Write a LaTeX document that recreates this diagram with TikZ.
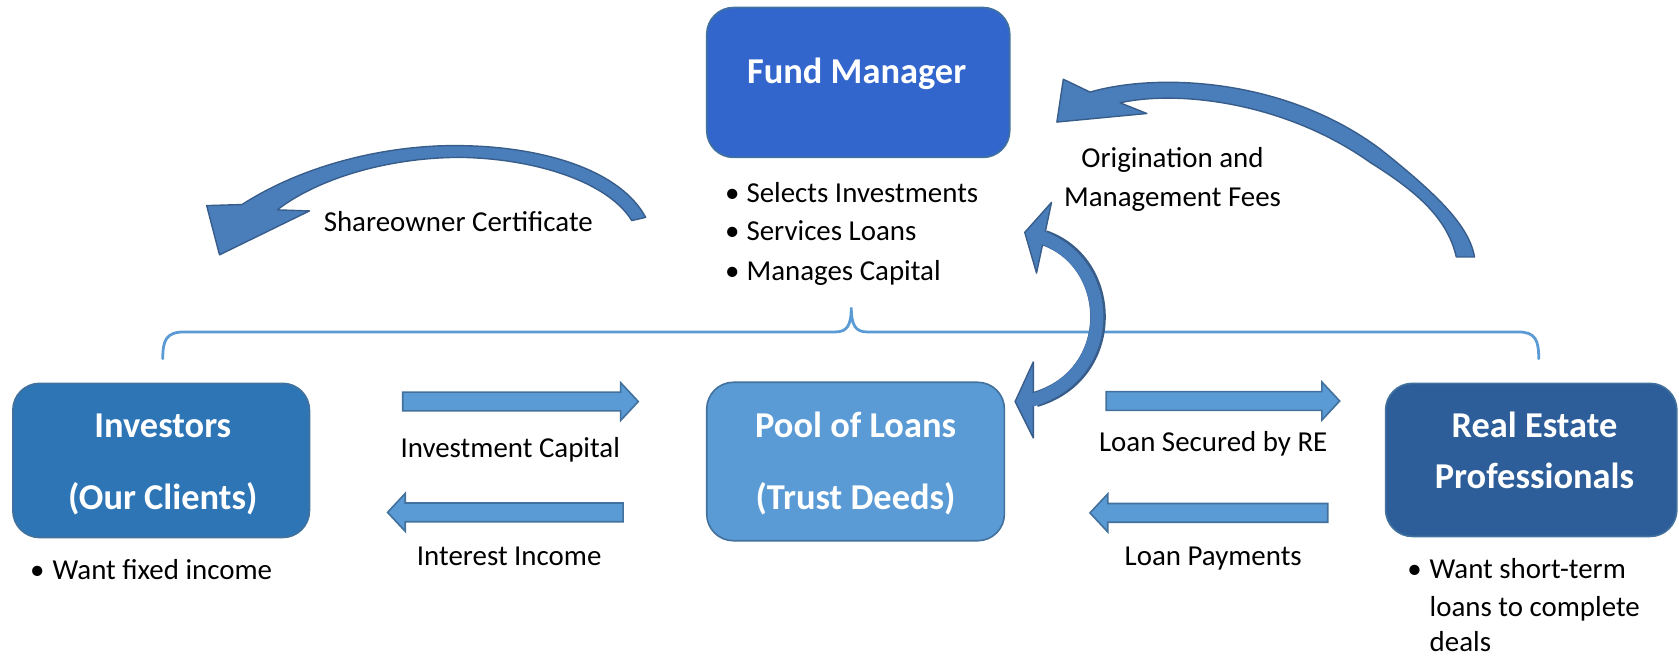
\documentclass[tikz,border=0pt]{standalone}
\usepackage{fontspec}
\setmainfont{Carlito}
\usetikzlibrary{shapes.arrows}
\definecolor{fmfill}{HTML}{3366CC}
\definecolor{invfill}{HTML}{2E75B6}
\definecolor{poolfill}{HTML}{5B9BD5}
\definecolor{refill}{HTML}{2E5E99}
\definecolor{boxborder}{HTML}{41719C}
\definecolor{cafill}{HTML}{4A7EBB}
\definecolor{caborder}{HTML}{385D8A}
\definecolor{safill}{HTML}{5B9BD5}
\definecolor{saborder}{HTML}{41719C}
\definecolor{bracec}{HTML}{5B9BD5}
\begin{document}
\begin{tikzpicture}[x=1pt,y=-1pt,
  box/.style={draw=boxborder,line width=1.5pt,rounded corners=25pt,inner sep=0pt},
  boxtext/.style={anchor=base,text=white,font=\fontsize{34}{40}\selectfont\bfseries,inner sep=0pt},
  lbl/.style={anchor=base,font=\fontsize{27}{32}\selectfont,inner sep=0pt},
  bul/.style={anchor=base west,font=\fontsize{27}{32}\selectfont,inner sep=0pt},
  sarrow/.style={single arrow,draw=saborder,fill=safill,line width=1.5pt,inner sep=0pt,
    minimum width=34pt,single arrow head extend=9pt,single arrow tip angle=94},
  carrow/.style={fill=cafill,draw=caborder,line width=1.3pt,line join=round},
]
\useasboundingbox (0,0) rectangle (1568,615.4);

% brace
\draw[bracec,line width=2.6pt,line cap=round]
  (152,335) .. controls (152,318) and (155,310) .. (172,310) -- (780,310)
  .. controls (791,310) and (795,304) .. (795,287)
  .. controls (795,304) and (799,310) .. (810,310) -- (1418,310)
  .. controls (1434,310) and (1437,318) .. (1437,335);

% boxes
\node[box,fill=fmfill,minimum width=283pt,minimum height=140pt] (fm) at (801.5,77) {};
\node[box,fill=invfill,minimum width=277pt,minimum height=144pt] (inv) at (150.5,430) {};
\node[box,fill=poolfill,minimum width=278pt,minimum height=148pt] (pool) at (799,431) {};
\node[box,fill=refill,minimum width=272pt,minimum height=143pt] (re) at (1430,429.5) {};

\node[boxtext] (fmt) at (800,78) {Fund Manager};
\node[boxtext] (inv1) at (152,409) {Investors};
\node[boxtext] (inv2) at (152,476) {(Our Clients)};
\node[boxtext] (pool1) at (799,409) {Pool of Loans};
\node[boxtext] (pool2) at (799,476) {(Trust Deeds)};
\node[boxtext] (re1) at (1433,409) {Real Estate};
\node[boxtext] (re2) at (1433,456) {Professionals};

% bullets
\node[bul] (fb1) at (677,189) {\makebox[20pt][l]{•}Selects Investments};
\node[bul] (fb2) at (677,225) {\makebox[20pt][l]{•}Services Loans};
\node[bul] (fb3) at (677,262) {\makebox[20pt][l]{•}Manages Capital};
\node[bul] (ib1) at (28,541) {\makebox[21pt][l]{•}Want fixed income};
\node[bul] (rb1) at (1314,540) {\makebox[21pt][l]{•}Want short-term};
\node[bul] (rb2) at (1335,576) {loans to complete};
\node[bul] (rb3) at (1335,608) {deals};

% straight arrows
\node[sarrow,minimum height=220pt] (a1) at (482,375) {\rule{0pt}{16pt}};
\node[sarrow,minimum height=220pt,shape border rotate=180] (a2) at (476,478.5) {\rule{0pt}{16pt}};
\node[sarrow,minimum height=218pt] (a3) at (1138,374.5) {\rule{0pt}{16pt}};
\node[sarrow,minimum height=222pt,shape border rotate=180] (a4) at (1133,479) {\rule{0pt}{16pt}};

\node[lbl] (l1) at (476.5,427) {Investment Capital};
\node[lbl] (l2) at (475.5,528) {Interest Income};
\node[lbl] (l3) at (1133,422) {Loan Secured by RE};
\node[lbl] (l4) at (1133,528) {Loan Payments};

% shareowner curved arrow
\draw[carrow] (289,197) -- (205,238) -- (193,192) -- (226,191)
  .. controls (290,150) and (370,135) .. (430,136)
  .. controls (510,137) and (580,160) .. (603,203)
  -- (590,206)
  .. controls (568,170) and (500,148) .. (430,147)
  .. controls (360,147) and (295,168) .. (259,196) -- cycle;
\node[lbl] (l5) at (428,216) {Shareowner Certificate};

% origination curved arrow
\draw[carrow] (993,74) -- (987,114) -- (1071,106) -- (1046,96)
  .. controls (1100,84) and (1200,95) .. (1280,152)
  .. controls (1325,180) and (1352,205) .. (1360,240)
  -- (1377,240)
  .. controls (1372,210) and (1340,180) .. (1290,140)
  .. controls (1200,72) and (1080,68) .. (1018,86) -- cycle;
\node[lbl] (l6) at (1095,156) {Origination and};
\node[lbl] (l7) at (1095,193) {Management Fees};

% double curved arrow
\draw[caborder,line width=14.6pt] (975,222) .. controls (1042,245) and (1045,350) .. (967,373);
\draw[carrow] (982,189) -- (957,217) -- (968,255) -- cycle;
\draw[carrow] (965,338) -- (948,375) -- (965,409) -- cycle;
\draw[cafill,line width=12pt] (971,221) .. controls (1042,245) and (1045,350) .. (963,374);
\end{tikzpicture}
\end{document}
